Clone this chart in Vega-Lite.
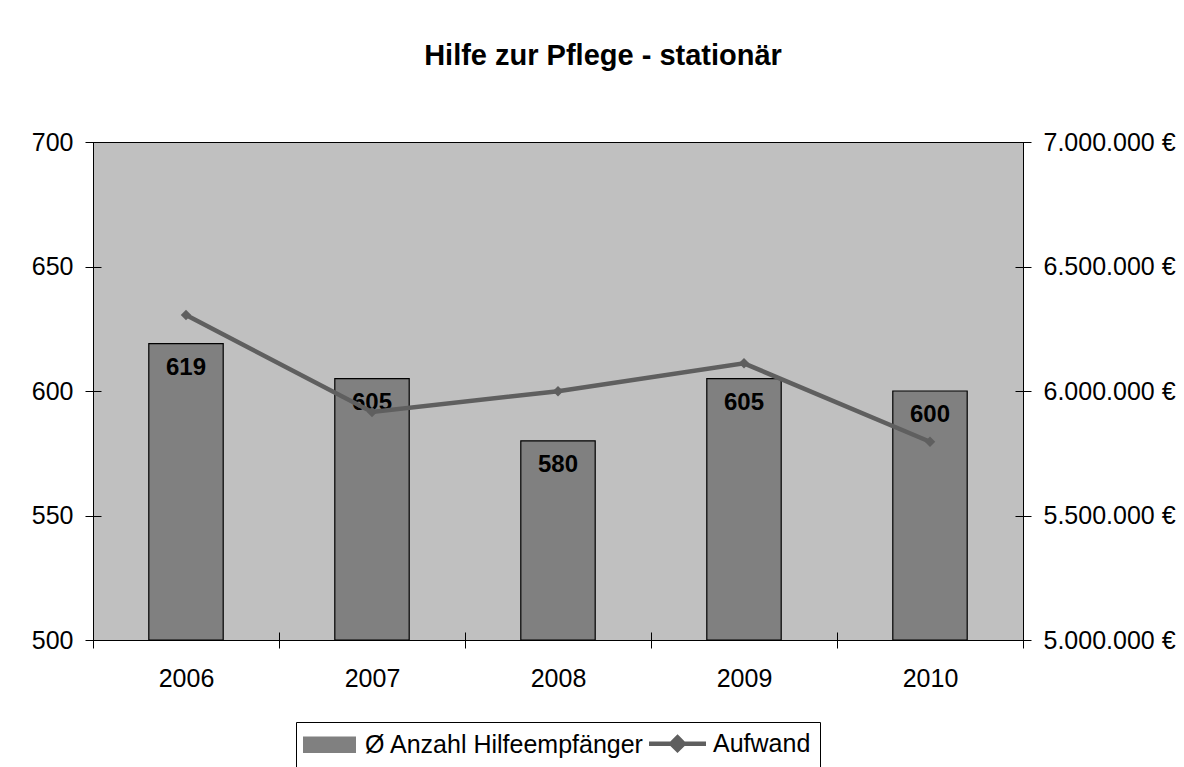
{
  "$schema": "https://vega.github.io/schema/vega-lite/v6.json",
  "autosize": "none",
  "width": 930,
  "height": 498,
  "padding": {"left": 93, "top": 142, "right": 161, "bottom": 127},
  "background": "white",
  "title": {
    "text": "Hilfe zur Pflege - stationär",
    "font": "Liberation Sans",
    "fontSize": 29,
    "fontWeight": "bold",
    "color": "black",
    "anchor": "middle",
    "frame": "group",
    "dx": 45,
    "offset": 59
  },
  "data": {
    "values": [
      {"Jahr": "2006", "Anzahl": 619, "Aufwand": 6305000},
      {"Jahr": "2007", "Anzahl": 605, "Aufwand": 5916000},
      {"Jahr": "2008", "Anzahl": 580, "Aufwand": 5999000},
      {"Jahr": "2009", "Anzahl": 605, "Aufwand": 6111000},
      {"Jahr": "2010", "Anzahl": 600, "Aufwand": 5796000}
    ]
  },
  "encoding": {
    "x": {
      "field": "Jahr",
      "type": "ordinal",
      "scale": {"paddingInner": 0, "paddingOuter": 0},
      "axis": {
        "title": null,
        "labelAngle": 0,
        "labelFont": "Liberation Sans",
        "labelFontSize": 25,
        "labelColor": "black",
        "labelPadding": 18,
        "domain": false,
        "tickBand": "extent",
        "tickSize": 16,
        "offset": -8,
        "tickColor": "black",
        "zindex": 1
      }
    }
  },
  "layer": [
    {
      "layer": [
        {
          "mark": {"type": "bar", "stroke": "black", "strokeWidth": 1.2, "width": {"band": 0.4}},
          "encoding": {
            "y": {
              "field": "Anzahl",
              "type": "quantitative",
              "scale": {"domain": [500, 700], "zero": false, "nice": false},
              "axis": {
                "title": null,
                "orient": "left",
                "values": [500, 550, 600, 650, 700],
                "grid": false,
                "domain": false,
                "tickSize": 16,
                "offset": -8,
                "tickColor": "black",
                "labelPadding": 12,
                "labelFont": "Liberation Sans",
                "labelFontSize": 25,
                "labelColor": "black",
                "zindex": 1
              }
            },
            "y2": {"datum": 500},
            "color": {
              "datum": "Ø Anzahl Hilfeempfänger",
              "type": "nominal",
              "scale": {"domain": ["Ø Anzahl Hilfeempfänger", "Aufwand"], "range": ["#808080", "#5f5f5f"]},
              "legend": {
                "orient": "none",
                "direction": "horizontal",
                "legendX": 203,
                "legendY": 580,
                "title": null,
                "labelFont": "Liberation Sans",
                "labelFontSize": 25,
                "labelColor": "black",
                "labelLimit": 600,
                "labelOffset": 23,
                "symbolOffset": 12,
                "columnPadding": -5,
                "symbolSize": 625,
                "symbolStrokeWidth": 1.5,
                "symbolStrokeColor": "black",
                "padding": 9,
                "strokeColor": "black",
                "fillColor": "white",
                "encoding": {
                  "symbols": {
                    "shape": {"value": {"expr": "datum.value === 'Aufwand' ? 'M-2.28,0H2.28M0,-0.5L0.5,0L0,0.5L-0.5,0Z' : 'M-2.04,-0.584H2.04V0.584H-2.04Z'"}},
                    "fill": {"value": {"expr": "datum.value === 'Aufwand' ? '#5f5f5f' : '#808080'"}},
                    "stroke": {"value": {"expr": "datum.value === 'Aufwand' ? '#5f5f5f' : '#000000'"}},
                    "strokeWidth": {"value": {"expr": "datum.value === 'Aufwand' ? 4.5 : 2"}},
                    "strokeOpacity": {"value": 1},
                    "fillOpacity": {"value": 1},
                    "opacity": {"value": 1}
                  }
                }
              }
            }
          }
        },
        {
          "mark": {"type": "text", "font": "Liberation Sans", "fontSize": 24, "fontWeight": "bold", "color": "black", "baseline": "middle", "dy": 24},
          "encoding": {
            "y": {"field": "Anzahl", "type": "quantitative"},
            "text": {"field": "Anzahl", "type": "quantitative"}
          }
        }
      ]
    },
    {
      "mark": {"type": "line", "strokeWidth": 4.5, "point": {"shape": "diamond", "filled": true, "size": 110, "color": "#5a5a5a", "opacity": 1}},
      "encoding": {
        "y": {
          "field": "Aufwand",
          "type": "quantitative",
          "scale": {"domain": [5000000, 7000000], "zero": false, "nice": false},
          "axis": {
            "title": null,
            "orient": "right",
            "values": [5000000, 5500000, 6000000, 6500000, 7000000],
            "format": "$,.0f",
            "grid": false,
            "domain": false,
            "tickSize": 16,
            "offset": -8,
            "tickColor": "black",
            "labelPadding": 12,
            "labelFont": "Liberation Sans",
            "labelFontSize": 25,
            "labelColor": "black",
            "zindex": 1
          }
        },
        "color": {"datum": "Aufwand", "type": "nominal", "legend": null}
      }
    }
  ],
  "resolve": {"scale": {"y": "independent"}},
  "config": {
    "locale": {"number": {"decimal": ",", "thousands": ".", "grouping": [3], "currency": ["", " €"]}},
    "view": {"fill": "#C0C0C0", "stroke": "black", "strokeWidth": 1}
  }
}
